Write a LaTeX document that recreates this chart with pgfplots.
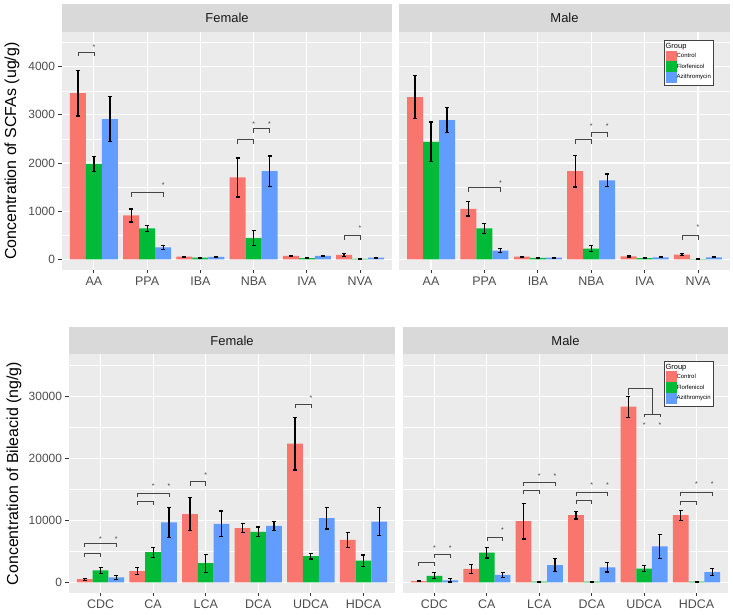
\documentclass[border=0pt]{standalone}
\usepackage{fontspec}
\setmainfont{Liberation Sans}
\usepackage{pgfplots}
\usepackage{pgfplotstable}
\pgfplotsset{compat=1.18}
\definecolor{ggred}{HTML}{F8766D}
\definecolor{gggreen}{HTML}{00BA38}
\definecolor{ggblue}{HTML}{619CFF}
\definecolor{ggbg}{HTML}{EBEBEB}
\definecolor{ggstrip}{HTML}{D9D9D9}
\definecolor{ggtext}{HTML}{4D4D4D}
\definecolor{ggtick}{HTML}{333333}
\definecolor{ggbrk}{HTML}{454545}

\pgfplotstableread{
x c ce f fe a ae
1 3450 475 1980 160 2910 470
2 910 135 640 60 250 40
3 55 10 35 8 50 10
4 1700 405 440 150 1830 315
5 70 15 25 5 70 15
6 90 30 10 5 35 8
}\topF
\pgfplotstableread{
x c ce f fe a ae
1 3370 440 2440 410 2890 260
2 1050 150 640 110 180 38
3 55 10 30 5 35 8
4 1830 330 220 65 1640 130
5 60 12 25 5 40 8
6 95 22 5 3 40 10
}\topM
\pgfplotstableread{
x c ce f fe a ae
1 500 150 1900 500 800 300
2 1800 550 4850 800 9650 2400
3 11000 2700 3070 1450 9420 2070
4 8720 730 8130 780 9100 700
5 22350 4230 4200 450 10340 1750
6 6830 1180 3490 920 9800 2260
}\botF
\pgfplotstableread{
x c ce f fe a ae
1 200 100 1050 480 300 250
2 2150 700 4780 860 1180 380
3 9850 2880 100 60 2750 1050
4 10820 600 100 60 2420 750
5 28320 1680 2200 490 5780 1970
6 10820 800 100 60 1620 560
}\botM

\tikzset{
 ebar/.style={line width=1.2bp, black},
 emark/.style={line width=1.2bp, black, mark size=2bp, rotate=90},
 star/.style={font=\fontsize{7}{7}\selectfont, text=ggbrk, inner sep=0pt, anchor=base, yshift=-4.2bp},
}
\pgfplotsset{
 gg/.style={
  scale only axis, anchor=south west, xmin=0.4, xmax=6.6,
  axis background/.style={fill=ggbg},
  axis line style={draw=none},
  xtick={1,2,3,4,5,6},
  xmajorgrids, ymajorgrids, yminorgrids,
  major grid style={white, line width=1.1bp},
  minor grid style={white, line width=0.55bp},
  tick align=outside, tick pos=left,
  major tick length=3.5bp, minor tick length=0pt,
  every tick/.style={ggtick, line width=0.9bp},
  xticklabel style={font=\fontsize{12.5}{12.5}\selectfont, text=ggtext},
  yticklabel style={font=\fontsize{12}{12}\selectfont, text=ggtext},
  /pgf/number format/assume math mode=true,
  /pgf/number format/1000 sep={},
  scaled y ticks=false,
  clip=false,
 },
 toprow/.style={height=238bp, ymin=-222, ymax=4721, ytick={0,1000,2000,3000,4000},
   minor ytick={500,1500,2500,3500,4500}, xticklabels={AA,PPA,IBA,NBA,IVA,NVA}},
 botrow/.style={height=239bp, ymin=-1730, ymax=36830, ytick={0,10000,20000,30000},
   minor ytick={5000,15000,25000,35000}, xticklabels={CDC,CA,LCA,DCA,UDCA,HDCA}},
 noy/.style={yticklabels={}, ytick style={draw=none, draw opacity=0}},
 ggleg/.style={legend style={at={(#1)}, anchor=north east, draw=black!75, line width=0.5bp,
   fill=white, inner xsep=1.5bp, inner ysep=2.5bp, font=\fontsize{6}{6}\selectfont,
   row sep=0pt, nodes={inner sep=0.5bp}}, legend cell align=left},
 brk/.style={draw=ggbrk, line width=0.7bp, forget plot},
}

\newcommand{\bars}[1]{%
\addplot[ybar, bar width=0.3, bar shift=0pt, fill=ggred, draw=none, forget plot,
  error bars/.cd, y dir=both, y explicit, error bar style={ebar}, error mark options={emark}]
  table[x expr=\thisrow{x}-0.3, y=c, y error=ce]{#1};
\addplot[ybar, bar width=0.3, bar shift=0pt, fill=gggreen, draw=none, forget plot,
  error bars/.cd, y dir=both, y explicit, error bar style={ebar}, error mark options={emark}]
  table[x=x, y=f, y error=fe]{#1};
\addplot[ybar, bar width=0.3, bar shift=0pt, fill=ggblue, draw=none, forget plot,
  error bars/.cd, y dir=both, y explicit, error bar style={ebar}, error mark options={emark}]
  table[x expr=\thisrow{x}+0.3, y=a, y error=ae]{#1};
}
\newcommand{\brk}[4]{\addplot[brk] coordinates {(#1,#4)(#1,#3)(#2,#3)(#2,#4)};}
\newcommand{\legs}{%
\addlegendimage{legend image code/.code={}}\addlegendentry{\hspace*{-11bp}\fontsize{7.5}{7.5}\selectfont Group}
\addlegendimage{legend image code/.code={\fill[ggred] (0bp,-5.15bp) rectangle (10bp,5.15bp);}}\addlegendentry{Control}
\addlegendimage{legend image code/.code={\fill[gggreen] (0bp,-5.15bp) rectangle (10bp,5.15bp);}}\addlegendentry{Florfenicol}
\addlegendimage{legend image code/.code={\fill[ggblue] (0bp,-5.15bp) rectangle (10bp,5.15bp);}}\addlegendentry{Azithromycin}
}

\begin{document}
\begin{tikzpicture}
\useasboundingbox (0bp,0bp) rectangle (733bp,615bp);
% strips
\fill[ggstrip] (62bp,583bp) rectangle (392bp,611bp);
\fill[ggstrip] (399bp,583bp) rectangle (730bp,611bp);
\fill[ggstrip] (69bp,261bp) rectangle (395bp,288bp);
\fill[ggstrip] (403bp,261bp) rectangle (728bp,288bp);
\node[font=\fontsize{13}{13}\selectfont, text=black!90] at (227bp,597bp) {Female};
\node[font=\fontsize{13}{13}\selectfont, text=black!90] at (564.5bp,597bp) {Male};
\node[font=\fontsize{13}{13}\selectfont, text=black!90] at (232bp,274.5bp) {Female};
\node[font=\fontsize{13}{13}\selectfont, text=black!90] at (565.5bp,274.5bp) {Male};
% y titles
\node[rotate=90, anchor=base, font=\fontsize{16}{16}\selectfont] at (16bp,464bp) {Concentration of SCFAs (ug/g)};
\node[rotate=90, anchor=base, font=\fontsize{16}{16}\selectfont] at (18bp,141.5bp) {Concentration of Bileacid (ng/g)};

% ---- top female
\begin{axis}[gg, toprow, at={(62bp,345bp)}, width=330bp]
\bars{\topF}
\brk{0.7}{1}{4300}{4215}
\brk{1.7}{2.3}{1383}{1300}
\brk{3.7}{4}{2492}{2400}
\brk{4}{4.3}{2720}{2630}
\brk{5.7}{6}{498}{410}
\node[star] at (axis cs:1,4450) {*};
\node[star] at (axis cs:2.3,1580) {*};
\node[star] at (axis cs:4,2840) {*};
\node[star] at (axis cs:4.3,2840) {*};
\node[star] at (axis cs:6,677) {*};
\end{axis}

% ---- top male
\begin{axis}[gg, toprow, noy, at={(399bp,345bp)}, width=331bp, ggleg={0.949,0.966}]
\legs
\bars{\topM}
\brk{1.7}{2.3}{1488}{1400}
\brk{3.7}{4}{2492}{2400}
\brk{4}{4.3}{2630}{2545}
\brk{5.7}{6}{490}{405}
\node[star] at (axis cs:2.3,1612) {*};
\node[star] at (axis cs:4,2810) {*};
\node[star] at (axis cs:4.3,2810) {*};
\node[star] at (axis cs:6,706) {*};
\end{axis}

% ---- bottom female
\begin{axis}[gg, botrow, at={(69bp,22bp)}, width=326bp]
\bars{\botF}
\brk{0.7}{1}{4685}{4100}
\brk{0.7}{1.3}{6250}{5650}
\brk{1.7}{2}{13085}{12400}
\brk{1.7}{2.3}{14380}{13750}
\brk{2.7}{3}{16210}{15600}
\brk{4.7}{5}{28750}{28100}
\node[star] at (axis cs:1,7270) {*};
\node[star] at (axis cs:1.3,7270) {*};
\node[star] at (axis cs:2,15830) {*};
\node[star] at (axis cs:2.3,15830) {*};
\node[star] at (axis cs:3,17600) {*};
\node[star] at (axis cs:5,29940) {*};
\end{axis}

% ---- bottom male
\begin{axis}[gg, botrow, noy, at={(403bp,22bp)}, width=325bp, ggleg={0.954,0.971}]
\legs
\bars{\botM}
\brk{0.7}{1}{3230}{2600}
\brk{1}{1.3}{4470}{3900}
\brk{2}{2.3}{7270}{6650}
\brk{2.7}{3}{14860}{14250}
\brk{2.7}{3.3}{16150}{15550}
\brk{3.7}{4}{13250}{12650}
\brk{3.7}{4.3}{14490}{13900}
\addplot[brk] coordinates {(4.7,30260)(4.7,31340)(5.165,31340)(5.165,27140)};
\brk{5}{5.3}{27140}{26590}
\brk{5.7}{6}{13085}{12450}
\brk{5.7}{6.3}{14540}{13900}
\node[star] at (axis cs:1,5870) {*};
\node[star] at (axis cs:1.3,5870) {*};
\node[star] at (axis cs:2.3,8720) {*};
\node[star] at (axis cs:3,17500) {*};
\node[star] at (axis cs:3.3,17500) {*};
\node[star] at (axis cs:4,15940) {*};
\node[star] at (axis cs:4.3,15940) {*};
\node[star] at (axis cs:5,25620) {*};
\node[star] at (axis cs:5.3,25620) {*};
\node[star] at (axis cs:6,16100) {*};
\node[star] at (axis cs:6.3,16100) {*};
\end{axis}
\end{tikzpicture}
\end{document}
